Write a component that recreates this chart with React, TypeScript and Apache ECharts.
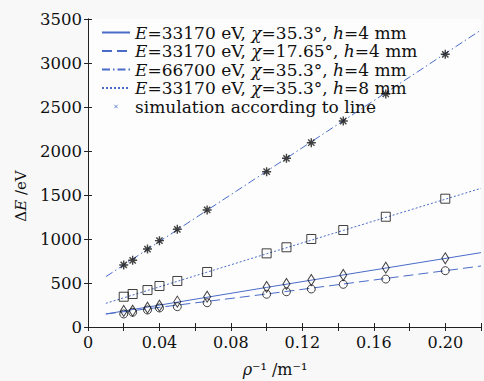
import React, { useEffect, useRef } from "react";
import * as echarts from "echarts";

// x values (rho^-1, 1/m) of the simulated points
const rhoInv = [0.02, 0.025, 0.0333, 0.04, 0.05, 0.0667, 0.1, 0.1111, 0.125, 0.1429, 0.1667, 0.2];
// simulated ΔE (eV)
const simA = [182, 185, 219, 242, 288, 344, 455, 489, 534, 591, 674, 781]; // E=33170, χ=35.3, h=4 (diamond)
const simB = [148, 167, 193, 216, 231, 276, 372, 401, 432, 485, 545, 640]; // E=33170, χ=17.65, h=4 (circle)
const simC = [705, 758, 886, 981, 1110, 1330, 1765, 1917, 2094, 2341, 2648, 3099]; // E=66700 (star)
const simD = [344, 375, 420, 466, 523, 625, 837, 906, 1000, 1102, 1253, 1458]; // h=8 (square)

// theoretical lines
const lineX = [0.01, 0.1, 0.22];
const lineA = [148, 450, 845];
const lineB = [148, 375, 693];
const lineC = [572, 1770, 3375];
const lineD = [269, 832, 1576];

const xTicks = [0, 0.04, 0.08, 0.12, 0.16, 0.2];

const FONT = "DejaVu Serif";
const BLUE = "#4a6cc9";
const CLEAR = "rgba(0,0,0,0)";

const pair = (xs: number[], ys: number[]) => xs.map((x, i) => [x, ys[i]]);

const legendNames: Record<string, string> = {
  a: "{i|E}=33170 eV, {i|χ}=35.3°, {i|h}=4 mm",
  b: "{i|E}=33170 eV, {i|χ}=17.65°, {i|h}=4 mm",
  c: "{i|E}=66700 eV, {i|χ}=35.3°, {i|h}=4 mm",
  d: "{i|E}=33170 eV, {i|χ}=35.3°, {i|h}=8 mm",
  sim: "simulation according to line",
};

const starPath =
  "path://M0,-5L0,5M-5,0L5,0M-3.5,-3.5L3.5,3.5M-3.5,3.5L3.5,-3.5";
const crossIcon =
  "path://M0,0L0.01,0M30,12L29.99,12M13.2,4.2L16.8,7.8M16.8,4.2L13.2,7.8";

export default function App() {
  const ref = useRef<HTMLDivElement>(null);
  useEffect(() => {
    if (!ref.current) return;
    const chart = echarts.init(ref.current, undefined, { renderer: "svg" });
    const lineSeries = (name: string, ys: number[], type: any) => ({
      name,
      type: "line",
      data: pair(lineX, ys),
      symbol: "none",
      lineStyle: { color: BLUE, width: 1, type },
      itemStyle: { color: CLEAR, borderColor: CLEAR, opacity: 0 },
      z: 2,
    });
    const scatter = (ys: number[], symbol: string, size: any, bw = 1) => ({
      type: "scatter",
      data: pair(rhoInv, ys),
      symbol,
      symbolSize: size,
      itemStyle: { color: CLEAR, borderColor: "#111", borderWidth: bw },
      z: 3,
    });
    const axisLine = { show: true, lineStyle: { color: "#222", width: 1 } };
    const tick = { show: true, inside: true, length: 4, lineStyle: { color: "#222" } };
    const rich = { i: { fontFamily: FONT, fontSize: 17, fontStyle: "italic", color: "#111" } };
    chart.setOption({
      animation: false,
      backgroundColor: "#f8f8f8",
      grid: {
        left: 88,
        right: 1,
        top: 19,
        bottom: 54,
        show: true,
        backgroundColor: "#fdfdfd",
        borderWidth: 0,
      },
      legend: {
        left: 101,
        top: 24,
        padding: 0,
        orient: "vertical",
        itemWidth: 28,
        itemHeight: 12,
        itemGap: 1.5,
        formatter: (n: string) => legendNames[n],
        textStyle: { fontFamily: FONT, fontSize: 17, color: "#111", rich },
        data: [
          { name: "a", itemStyle: { opacity: 0 } },
          { name: "b", itemStyle: { opacity: 0 } },
          { name: "c", itemStyle: { opacity: 0 } },
          { name: "d", itemStyle: { opacity: 0 } },
          {
            name: "sim",
            icon: crossIcon,
            itemStyle: { color: CLEAR, borderColor: BLUE, borderWidth: 1 },
          },
        ],
      },
      xAxis: [
        {
          type: "value",
          min: 0,
          max: 0.22,
          interval: 0.02,
          axisLine,
          axisTick: tick,
          splitLine: { show: false },
          axisLabel: {
            fontFamily: FONT,
            fontSize: 16,
            color: "#111",
            margin: 7,
            formatter: (v: number) => {
              const t = xTicks.find((x) => Math.abs(x - v) < 1e-6);
              if (t === undefined) return "";
              return t === 0 ? "0" : t.toFixed(2);
            },
          },
        },
        {
          type: "value",
          position: "top",
          min: 0,
          max: 0.22,
          interval: 0.02,
          axisLine,
          axisTick: tick,
          axisLabel: { show: false },
          splitLine: { show: false },
        },
      ],
      yAxis: [
        {
          type: "value",
          min: 0,
          max: 3500,
          interval: 500,
          axisLine,
          axisTick: tick,
          splitLine: { show: false },
          axisLabel: {
            fontFamily: FONT,
            fontSize: 16.5,
            color: "#111",
            margin: 6,
            formatter: (v: number) => String(v),
          },
        },
        {
          type: "value",
          position: "right",
          min: 0,
          max: 3500,
          interval: 500,
          axisLine,
          axisTick: tick,
          axisLabel: { show: false },
          splitLine: { show: false },
        },
      ],
      graphic: [
        {
          type: "text",
          x: 21,
          y: 196,
          rotation: Math.PI / 2,
          style: {
            text: "Δ{i|E} /eV",
            fontFamily: FONT,
            fontSize: 15,
            fill: "#111",
            align: "center",
            verticalAlign: "middle",
            rich: { i: { fontFamily: FONT, fontSize: 15, fontStyle: "italic", fill: "#111" } },
          },
        },
        {
          type: "text",
          x: 275,
          y: 369,
          style: {
            text: "{i|ρ}⁻¹ /m⁻¹",
            fontFamily: FONT,
            fontSize: 16,
            fill: "#111",
            align: "center",
            verticalAlign: "middle",
            rich: { i: { fontFamily: FONT, fontSize: 16, fontStyle: "italic", fill: "#111" } },
          },
        },
      ],
      series: [
        lineSeries("a", lineA, "solid"),
        lineSeries("b", lineB, [10, 5]),
        lineSeries("c", lineC, [8, 3, 1.5, 3]),
        lineSeries("d", lineD, [2, 2]),
        { name: "sim", type: "scatter", data: [], symbol: crossIcon, itemStyle: { color: BLUE } },
        scatter(simA, "diamond", [7, 11]),
        scatter(simB, "circle", 8),
        scatter(simC, starPath, 9, 1.4),
        scatter(simD, "rect", 9),
      ],
    });
    return () => chart.dispose();
  }, []);
  return (
    <div
      ref={ref}
      style={{ position: "absolute", left: 0, top: 0, width: 484, height: 381 }}
    />
  );
}
